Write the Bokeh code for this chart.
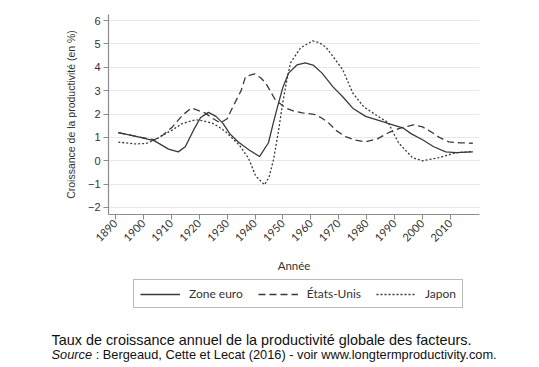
import math
from bokeh.plotting import figure
from bokeh.models import FixedTicker, Legend, LegendItem, Label
from bokeh.embed import file_html
from bokeh.resources import INLINE

# ---- data ----
years_euro = [1891, 1897, 1904, 1909, 1912.5, 1915, 1918, 1920.5, 1923.3, 1926, 1928.5, 1931,
              1934, 1938, 1941.6, 1944.8, 1946.5, 1948.4, 1950, 1952, 1955, 1958, 1961, 1964,
              1968, 1971.4, 1975, 1979.6, 1985.7, 1989, 1992.9, 1996, 2000, 2004, 2008.3, 2012, 2018]
vals_euro = [1.2, 1.05, 0.85, 0.5, 0.38, 0.6, 1.32, 1.85, 2.07, 1.9, 1.6, 1.15,
             0.8, 0.45, 0.18, 0.77, 1.6, 2.47, 3.15, 3.75, 4.1, 4.19, 4.08, 3.75,
             3.15, 2.74, 2.25, 1.9, 1.67, 1.55, 1.41, 1.15, 0.9, 0.6, 0.38, 0.35, 0.38]

years_us = [1891, 1897, 1904, 1907, 1910.4, 1914, 1917.2, 1922, 1925, 1927.6, 1930, 1932,
            1935, 1936.6, 1939.8, 1942, 1943.8, 1947.3, 1951, 1954, 1957, 1961.7, 1964, 1966.3,
            1969, 1972.4, 1976, 1979.6, 1984, 1987.8, 1992, 1996.8, 2000, 2003.6, 2006, 2009.4,
            2013, 2018]
vals_us = [1.2, 1.05, 0.9, 1.1, 1.45, 1.95, 2.26, 2.05, 1.8, 1.62, 1.8, 2.3,
           3.0, 3.6, 3.72, 3.55, 3.33, 2.6, 2.26, 2.12, 2.05, 1.97, 1.82, 1.62,
           1.3, 1.03, 0.88, 0.81, 0.95, 1.2, 1.4, 1.54, 1.45, 1.2, 1.0, 0.81,
           0.77, 0.75]

years_jp = [1891, 1897, 1901, 1904.3, 1907, 1910.4, 1914, 1918.7, 1921, 1924.8, 1927, 1929.4,
            1932, 1934.5, 1937.7, 1940.2, 1943.4, 1945, 1946.6, 1948.3, 1949.9, 1951.3, 1952.7,
            1956.3, 1960.6, 1963, 1965.3, 1968, 1971.4, 1975, 1978.9, 1983.2, 1987.8, 1989.5,
            1991.4, 1996.4, 2000, 2005.8, 2011.9, 2018]
vals_jp = [0.8, 0.72, 0.74, 0.9, 1.1, 1.32, 1.6, 1.75, 1.72, 1.6, 1.45, 1.25,
           0.95, 0.65, 0.1, -0.65, -1.03, -0.7, 0.04, 1.2, 2.47, 3.4, 4.19,
           4.83, 5.13, 5.05, 4.87, 4.45, 3.9, 2.9, 2.31, 1.97, 1.62, 1.2,
           0.77, 0.13, 0.0, 0.13, 0.34, 0.4]

x_ticks = list(range(1890, 2011, 10))
y_ticks = [-2, -1, 0, 1, 2, 3, 4, 5, 6]
series_names = ["Zone euro", "États-Unis", "Japon"]
y_title = "Croissance de la productivité (en %)"
x_title = "Année"
caption1 = "Taux de croissance annuel de la productivité globale des facteurs."
caption2_italic = "Source"
caption2_rest = ": Bergeaud, Cette et Lecat (2016) - voir www.longtermproductivity.com."

line_color = "#3a3a3a"
dashes = ["solid", "7 4", "2 2"]
series = [(years_euro, vals_euro), (years_us, vals_us), (years_jp, vals_jp)]

# ---- main chart ----
p = figure(width=531, height=276, output_backend="svg", toolbar_location=None,
           x_range=(1887.5, 2020.4), y_range=(-2.3, 6.26),
           min_border_left=108, min_border_right=52, min_border_top=14, min_border_bottom=62)
p.outline_line_color = None
p.background_fill_color = "white"
p.border_fill_color = "white"

for (xs, ys), d in zip(series, dashes):
    p.line(xs, ys, line_color=line_color, line_width=1.3, line_dash=d)

axis_col = "#8c8c8c"
p.xaxis.ticker = FixedTicker(ticks=x_ticks)
p.xaxis.major_label_orientation = math.pi / 4
p.xaxis.major_label_text_font = "Lato"
p.xaxis.major_label_text_font_size = "11px"
p.xaxis.major_label_text_color = "#333333"
p.xaxis.major_label_standoff = 2
p.xaxis.axis_label = x_title
p.xaxis.axis_label_text_font = "Lato"
p.xaxis.axis_label_text_font_size = "11.5px"
p.xaxis.axis_label_text_font_style = "normal"
p.xaxis.axis_label_text_color = "#333333"
p.xaxis.axis_label_standoff = 11

p.yaxis.ticker = FixedTicker(ticks=y_ticks)
p.yaxis.major_label_overrides = {-2: "−2", -1: "−1"}
p.yaxis.major_label_text_font = "Liberation Sans"
p.yaxis.major_label_text_font_size = "11px"
p.yaxis.major_label_text_color = "#333333"
p.yaxis.major_label_standoff = 3
p.yaxis.axis_label = y_title
p.yaxis.axis_label_text_font = "Liberation Sans"
p.yaxis.axis_label_text_font_size = "10.5px"
p.yaxis.axis_label_text_font_style = "normal"
p.yaxis.axis_label_text_color = "#333333"
p.yaxis.axis_label_standoff = 8

for ax in (p.xaxis, p.yaxis):
    ax.axis_line_color = axis_col
    ax.axis_line_width = 1.2
    ax.major_tick_line_color = axis_col
    ax.major_tick_out = 5
    ax.major_tick_in = 0
    ax.minor_tick_line_color = None

p.xgrid.grid_line_color = None
p.ygrid.ticker = FixedTicker(ticks=y_ticks)
p.ygrid.grid_line_color = "#e8e8e8"
p.ygrid.grid_line_width = 1.2

# ---- legend + caption strip ----
c = figure(width=531, height=91, output_backend="svg", toolbar_location=None,
           x_axis_type=None, y_axis_type=None, x_range=(0, 1), y_range=(0, 1),
           min_border_left=0, min_border_right=0, min_border_top=0, min_border_bottom=0)
c.outline_line_color = None
c.grid.visible = False
c.background_fill_color = "white"
c.border_fill_color = "white"

# legend keys: the same series, lying outside this strip's ranges (only the keys show)
keys = [c.line(xs, ys, line_color=line_color, line_width=1.3, line_dash=d)
        for (xs, ys), d in zip(series, dashes)]
legend = Legend(items=[LegendItem(label=n, renderers=[k]) for n, k in zip(series_names, keys)],
                orientation="horizontal", location=(133, 59),
                glyph_width=40, glyph_height=14, label_standoff=9, spacing=15,
                padding=6, margin=0,
                label_text_font="Lato", label_text_font_size="12px", label_text_color="#333333",
                border_line_color="#777777", border_line_width=1,
                background_fill_alpha=1.0)
c.add_layout(legend, "center")

c.add_layout(Label(x=51, y=28, x_units="screen", y_units="screen", text=caption1,
                   text_font="Liberation Sans", text_font_size="14.4px", text_color="#111111",
                   text_baseline="alphabetic"))
c.add_layout(Label(x=51, y=13, x_units="screen", y_units="screen", text=caption2_italic,
                   text_font="Liberation Sans", text_font_size="12.8px", text_font_style="italic",
                   text_color="#111111", text_baseline="alphabetic"))
c.add_layout(Label(x=95.2, y=13, x_units="screen", y_units="screen", text=caption2_rest,
                   text_font="Liberation Sans", text_font_size="12.8px", text_color="#111111",
                   text_baseline="alphabetic"))

open("out.html", "w").write(file_html([p, c], INLINE))
